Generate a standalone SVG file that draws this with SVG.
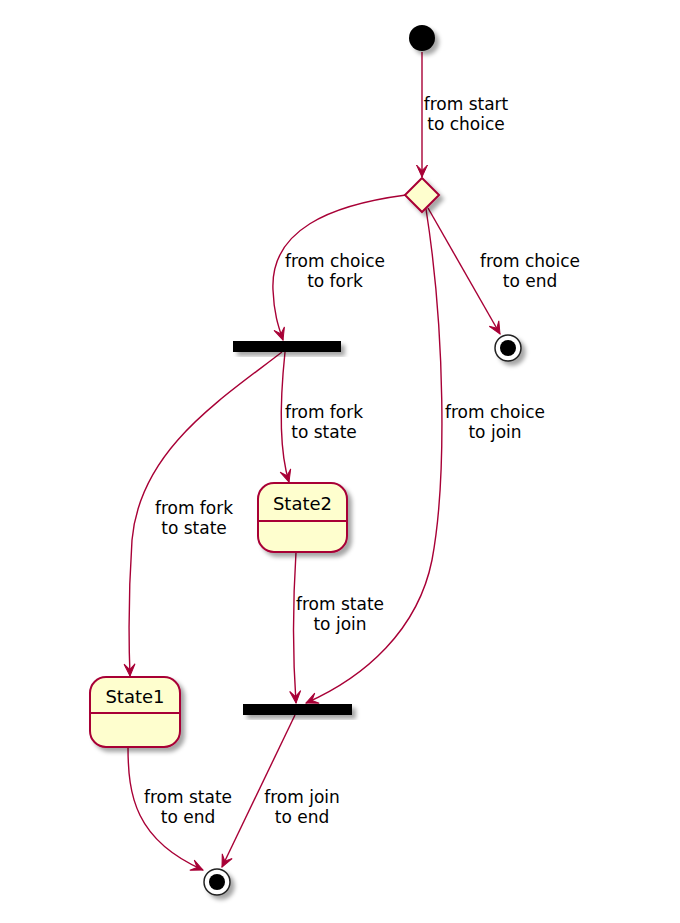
<svg xmlns="http://www.w3.org/2000/svg" width="680" height="923" viewBox="0 0 680 923">
<style>
.edge{fill:none;stroke:#A80036;stroke-width:1.4;marker-end:url(#arr)}
.lbl{font-family:"DejaVu Sans",sans-serif;font-size:17px;fill:#000;text-anchor:middle}
.sname{font-family:"DejaVu Sans",sans-serif;font-size:18px;fill:#000;text-anchor:middle}
.state{fill:#FEFECE;stroke:#A80036;stroke-width:2}
.bar{fill:#000}
</style>
<defs>
<filter id="sh" x="-30%" y="-30%" width="170%" height="170%">
<feGaussianBlur in="SourceAlpha" stdDeviation="2"/>
<feOffset dx="4" dy="4" result="b"/>
<feFlood flood-color="#000" flood-opacity="0.35"/>
<feComposite in2="b" operator="in"/>
<feMerge><feMergeNode/><feMergeNode in="SourceGraphic"/></feMerge>
</filter>
<marker id="arr" viewBox="-13 -7 14 14" refX="0" refY="0" markerWidth="14" markerHeight="14" markerUnits="userSpaceOnUse" orient="auto">
<path d="M0,0 L-12,-5.5 L-6.5,0 L-12,5.5 Z" fill="#A80036" stroke="#A80036" stroke-width="1"/>
</marker>
</defs>
<rect width="680" height="923" fill="#fff"/>

<g id="connectors">
<path class="edge" d="M422,52 L422,177"/>
<path class="edge" d="M406,195 C330,205 270,230 273,290 C274,315 279,328 283,340"/>
<path class="edge" d="M428,208 L500,334"/>
<path class="edge" d="M426,209 C445,330 447,480 432,560 C418,630 365,677 306,703"/>
<path class="edge" d="M285,352 C280,400 279,450 289,482"/>
<path class="edge" d="M282,352 C220,400 140,450 132,540 C128,600 129,650 130,676"/>
<path class="edge" d="M296,552 C293,600 293,660 296,703"/>
<path class="edge" d="M128,747 C128,795 135,840 203,870"/>
<path class="edge" d="M295,715 L222,867"/>
</g>

<g id="labels">
<text class="lbl" x="466" y="110">from start</text>
<text class="lbl" x="466" y="130">to choice</text>
<text class="lbl" x="335" y="267">from choice</text>
<text class="lbl" x="335" y="287">to fork</text>
<text class="lbl" x="530" y="267">from choice</text>
<text class="lbl" x="530" y="287">to end</text>
<text class="lbl" x="495" y="418">from choice</text>
<text class="lbl" x="495" y="438">to join</text>
<text class="lbl" x="324" y="418">from fork</text>
<text class="lbl" x="324" y="438">to state</text>
<text class="lbl" x="194" y="514">from fork</text>
<text class="lbl" x="194" y="534">to state</text>
<text class="lbl" x="340" y="610">from state</text>
<text class="lbl" x="340" y="630">to join</text>
<text class="lbl" x="188" y="803">from state</text>
<text class="lbl" x="188" y="823">to end</text>
<text class="lbl" x="302" y="803">from join</text>
<text class="lbl" x="302" y="823">to end</text>
</g>

<g id="start" filter="url(#sh)">
<circle cx="422" cy="38" r="13" fill="#000"/>
</g>

<g id="choice" filter="url(#sh)">
<polygon points="422,178 439,195 422,212 405,195" fill="#FEFECE" stroke="#A80036" stroke-width="2"/>
</g>

<g id="end1" filter="url(#sh)">
<circle cx="508" cy="348" r="13" fill="#fff" stroke="#222" stroke-width="1.5"/>
<circle cx="508" cy="348" r="8" fill="#000"/>
</g>

<g id="fork" filter="url(#sh)">
<rect class="bar" x="233" y="341" width="108" height="11"/>
</g>

<g id="State2">
<rect class="state" x="258" y="483" width="89" height="69" rx="16" filter="url(#sh)"/>
<line x1="258" y1="521" x2="347" y2="521" stroke="#A80036" stroke-width="2"/>
<text class="sname" x="302.5" y="510">State2</text>
</g>

<g id="State1">
<rect class="state" x="90" y="677" width="90" height="70" rx="16" filter="url(#sh)"/>
<line x1="90" y1="713" x2="180" y2="713" stroke="#A80036" stroke-width="2"/>
<text class="sname" x="135" y="703">State1</text>
</g>

<g id="join" filter="url(#sh)">
<rect class="bar" x="243" y="704" width="109" height="11"/>
</g>

<g id="end2" filter="url(#sh)">
<circle cx="217" cy="882" r="13" fill="#fff" stroke="#222" stroke-width="1.5"/>
<circle cx="217" cy="882" r="8" fill="#000"/>
</g>
</svg>
